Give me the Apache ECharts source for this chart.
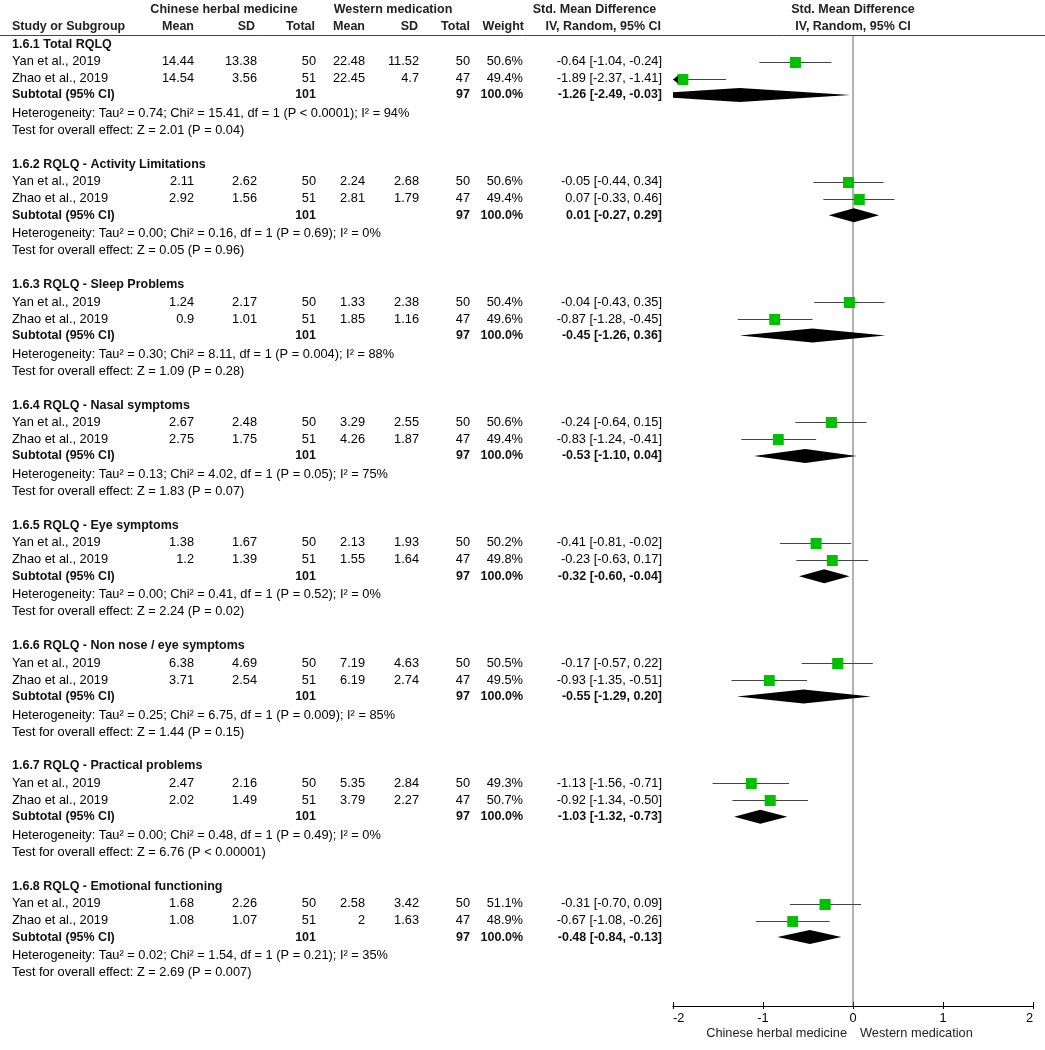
<!DOCTYPE html>
<html><head><meta charset="utf-8">
<script src="https://cdn.jsdelivr.net/npm/echarts@6/dist/echarts.min.js"></script>
<style>html,body{margin:0;padding:0;background:#fff}#c{width:1045px;height:1050px}</style>
</head><body><div id="c"></div>
<script>
// ---------------- DATA ----------------
const groups = ['1.6.1 Total RQLQ','1.6.2 RQLQ - Activity Limitations','1.6.3 RQLQ - Sleep Problems','1.6.4 RQLQ - Nasal symptoms','1.6.5 RQLQ - Eye symptoms','1.6.6 RQLQ - Non nose / eye symptoms','1.6.7 RQLQ - Practical problems','1.6.8 RQLQ - Emotional functioning'];
const studies = ['Yan et al., 2019','Zhao et al., 2019'];
const chmMean = [[14.44,14.54],[2.11,2.92],[1.24,0.9],[2.67,2.75],[1.38,1.2],[6.38,3.71],[2.47,2.02],[1.68,1.08]];
const chmSD   = [[13.38,3.56],[2.62,1.56],[2.17,1.01],[2.48,1.75],[1.67,1.39],[4.69,2.54],[2.16,1.49],[2.26,1.07]];
const chmN    = [50,51];
const wmMean  = [[22.48,22.45],[2.24,2.81],[1.33,1.85],[3.29,4.26],[2.13,1.55],[7.19,6.19],[5.35,3.79],[2.58,2]];
const wmSD    = [[11.52,4.7],[2.68,1.79],[2.38,1.16],[2.55,1.87],[1.93,1.64],[4.63,2.74],[2.84,2.27],[3.42,1.63]];
const wmN     = [50,47];
const weights = [[50.6,49.4],[50.6,49.4],[50.4,49.6],[50.6,49.4],[50.2,49.8],[50.5,49.5],[49.3,50.7],[51.1,48.9]];
const smd     = [[-0.64,-1.89],[-0.05,0.07],[-0.04,-0.87],[-0.24,-0.83],[-0.41,-0.23],[-0.17,-0.93],[-1.13,-0.92],[-0.31,-0.67]];
const ciLow   = [[-1.04,-2.37],[-0.44,-0.33],[-0.43,-1.28],[-0.64,-1.24],[-0.81,-0.63],[-0.57,-1.35],[-1.56,-1.34],[-0.70,-1.08]];
const ciHigh  = [[-0.24,-1.41],[0.34,0.46],[0.35,-0.45],[0.15,-0.41],[-0.02,0.17],[0.22,-0.51],[-0.71,-0.50],[0.09,-0.26]];
const subSMD  = [-1.26,0.01,-0.45,-0.53,-0.32,-0.55,-1.03,-0.48];
const subLow  = [-2.49,-0.27,-1.26,-1.10,-0.60,-1.29,-1.32,-0.84];
const subHigh = [-0.03,0.29,0.36,0.04,-0.04,0.20,-0.73,-0.13];
const subN1 = 101, subN2 = 97, subWeight = 100.0;
const tau2 = ['0.74','0.00','0.30','0.13','0.00','0.25','0.00','0.02'];
const chi2 = ['15.41','0.16','8.11','4.02','0.41','6.75','0.48','1.54'];
const hetP = ['P < 0.0001','P = 0.69','P = 0.004','P = 0.05','P = 0.52','P = 0.009','P = 0.49','P = 0.21'];
const i2   = [94,0,88,75,0,85,0,35];
const zVal = ['2.01','0.05','1.09','1.83','2.24','1.44','6.76','2.69'];
const zP   = ['P = 0.04','P = 0.96','P = 0.28','P = 0.07','P = 0.02','P = 0.15','P < 0.00001','P = 0.007'];
const xTicks = [-2,-1,0,1,2];
const favourLeft = 'Chinese herbal medicine', favourRight = 'Western medication';

// ---------------- LAYOUT ----------------
const FAM = '"Liberation Sans", Arial, sans-serif';
const FS = 12.8, FSB = 12.5;
const REG = FS + 'px ' + FAM, BOLD = 'bold ' + FSB + 'px ' + FAM;
const BASE0 = 61.5, PITCH = 120.3;
const OFF = {title:-17.3, study:[0,17], sub:33.5, het:52, test:69};
const rowY = (g, k, s) => BASE0 + g*PITCH + (k === 'study' ? OFF.study[s] : OFF[k]);
const COL = {name:12, m1:194, sd1:257, n1:316, m2:365, sd2:419, n2:470, w:523, ci:662};
const fmt2 = v => v.toFixed(2);
const ciTxt = (e,l,h) => fmt2(e) + ' [' + fmt2(l) + ', ' + fmt2(h) + ']';

const gfx = [];
function txt(x, y, s, opt) {
  opt = opt || {};
  const al = opt.align || 'left';
  gfx.push({type:'text', x:x, y:y, silent:true, style:{text:String(s), font: opt.bold ? BOLD : REG,
    fill: opt.fill || '#000', align: al, textAlign: al, verticalAlign:'middle', textVerticalAlign:'middle'}});
}
// header
txt(224, 10, 'Chinese herbal medicine', {bold:true, align:'center', fill:'#222'});
txt(393, 10, 'Western medication', {bold:true, align:'center', fill:'#222'});
txt(594.5, 10, 'Std. Mean Difference', {bold:true, align:'center', fill:'#222'});
txt(853, 10, 'Std. Mean Difference', {bold:true, align:'center', fill:'#222'});
txt(12, 27, 'Study or Subgroup', {bold:true, fill:'#222'});
txt(194, 27, 'Mean', {bold:true, align:'right', fill:'#222'});
txt(255, 27, 'SD', {bold:true, align:'right', fill:'#222'});
txt(315, 27, 'Total', {bold:true, align:'right', fill:'#222'});
txt(365, 27, 'Mean', {bold:true, align:'right', fill:'#222'});
txt(418, 27, 'SD', {bold:true, align:'right', fill:'#222'});
txt(470, 27, 'Total', {bold:true, align:'right', fill:'#222'});
txt(524, 27, 'Weight', {bold:true, align:'right', fill:'#222'});
txt(661, 27, 'IV, Random, 95% CI', {bold:true, align:'right', fill:'#222'});
txt(853, 27, 'IV, Random, 95% CI', {bold:true, align:'center', fill:'#222'});
gfx.push({type:'line', silent:true, shape:{x1:0, y1:35.5, x2:1045, y2:35.5}, style:{stroke:'#444', lineWidth:1}});

groups.forEach((gname, g) => {
  txt(COL.name, rowY(g,'title'), gname, {bold:true, fill:'#111'});
  studies.forEach((sn, s) => {
    const y = rowY(g,'study',s);
    txt(COL.name, y, sn);
    txt(COL.m1, y, chmMean[g][s], {align:'right'});
    txt(COL.sd1, y, chmSD[g][s], {align:'right'});
    txt(COL.n1, y, chmN[s], {align:'right'});
    txt(COL.m2, y, wmMean[g][s], {align:'right'});
    txt(COL.sd2, y, wmSD[g][s], {align:'right'});
    txt(COL.n2, y, wmN[s], {align:'right'});
    txt(COL.w, y, weights[g][s].toFixed(1) + '%', {align:'right'});
    txt(COL.ci, y, ciTxt(smd[g][s], ciLow[g][s], ciHigh[g][s]), {align:'right'});
  });
  const ys = rowY(g,'sub');
  txt(COL.name, ys, 'Subtotal (95% CI)', {bold:true, fill:'#111'});
  txt(COL.n1, ys, subN1, {bold:true, align:'right', fill:'#111'});
  txt(COL.n2, ys, subN2, {bold:true, align:'right', fill:'#111'});
  txt(COL.w, ys, subWeight.toFixed(1) + '%', {bold:true, align:'right', fill:'#111'});
  txt(COL.ci, ys, ciTxt(subSMD[g], subLow[g], subHigh[g]), {bold:true, align:'right', fill:'#111'});
  txt(COL.name, rowY(g,'het'), 'Heterogeneity: Tau\u00b2 = ' + tau2[g] + '; Chi\u00b2 = ' + chi2[g] + ', df = 1 (' + hetP[g] + '); I\u00b2 = ' + i2[g] + '%');
  txt(COL.name, rowY(g,'test'), 'Test for overall effect: Z = ' + zVal[g] + ' (' + zP[g] + ')');
});
// favours labels
txt(847, 1033, favourLeft, {align:'right', fill:'#222'});
txt(860, 1033, favourRight, {align:'left', fill:'#222'});

// ---------------- SERIES DATA ----------------
const studyData = [], subData = [];
groups.forEach((gname, g) => {
  studies.forEach((sn, s) => studyData.push([smd[g][s], ciLow[g][s], ciHigh[g][s], rowY(g,'study',s), weights[g][s]]));
  subData.push([subSMD[g], subLow[g], subHigh[g], rowY(g,'sub')]);
});
const XMIN = xTicks[0], XMAX = xTicks[xTicks.length-1];
const YTOP = 35, YBOT = 1006;

function renderStudy(params, api) {
  const e = api.value(0), lo = api.value(1), hi = api.value(2), yv = api.value(3), w = api.value(4);
  const pL = api.coord([Math.max(lo, XMIN), yv]);
  const pH = api.coord([Math.min(hi, XMAX), yv]);
  const pE = api.coord([e, yv]);
  const yy = Math.round(pE[1]) + 0.5;
  const size = 11 * Math.sqrt(w / 50);
  const ch = [
    {type:'line', shape:{x1:pL[0], y1:yy, x2:pH[0], y2:yy}, style:{stroke:'#444', lineWidth:1.2}},
    {type:'rect', shape:{x:pE[0]-size/2, y:yy-size/2, width:size, height:size}, style:{fill:'#00c000'}}
  ];
  if (lo < XMIN) ch.push({type:'polygon', shape:{points:[[pL[0], yy], [pL[0]+5, yy-4], [pL[0]+5, yy+4]]}, style:{fill:'#000'}});
  if (hi > XMAX) ch.push({type:'polygon', shape:{points:[[pH[0], yy], [pH[0]-5, yy-4], [pH[0]-5, yy+4]]}, style:{fill:'#000'}});
  return {type:'group', children:ch};
}
function renderDiamond(params, api) {
  const e = api.value(0), lo = api.value(1), hi = api.value(2), yv = api.value(3);
  const pL = api.coord([lo, yv]), pH = api.coord([hi, yv]), pE = api.coord([e, yv]);
  const h = 7;
  return {type:'polygon', shape:{points:[[pL[0], pE[1]], [pE[0], pE[1]-h], [pH[0], pE[1]], [pE[0], pE[1]+h]]}, style:{fill:'#000'}};
}

const axisCommon = {type:'value', min:XMIN, max:XMAX, interval:1, position:'bottom',
  axisLine:{show:true, lineStyle:{color:'#000', width:1}}, splitLine:{show:false}};

const chart = echarts.init(document.getElementById('c'), null, {renderer:'canvas'});
chart.setOption({
  backgroundColor:'#fff',
  animation:false,
  grid:{left:673, right:12, top:YTOP, bottom:1050-YBOT, containLabel:false},
  xAxis:[
    Object.assign({}, axisCommon, {axisTick:{show:true, inside:false, length:3, lineStyle:{color:'#000'}},
      axisLabel:{show:true, margin:6, color:'#000', fontSize:FS, fontFamily:FAM, alignMinLabel:'left', alignMaxLabel:'right'}}),
    Object.assign({}, axisCommon, {axisTick:{show:true, inside:true, length:4, lineStyle:{color:'#000'}}, axisLabel:{show:false}})
  ],
  yAxis:{type:'value', min:YTOP, max:YBOT, inverse:true, show:false},
  series:[
    {type:'line', xAxisIndex:0, data:[[0, YTOP], [0, YBOT]], symbol:'none', silent:true, z:1,
      lineStyle:{color:'#666', width:1}},
    {type:'custom', xAxisIndex:0, renderItem:renderDiamond, data:subData, clip:true, z:3, silent:true},
    {type:'custom', xAxisIndex:0, renderItem:renderStudy, data:studyData, clip:false, z:4, silent:true}
  ],
  graphic:{elements:gfx}
});
</script></body></html>
